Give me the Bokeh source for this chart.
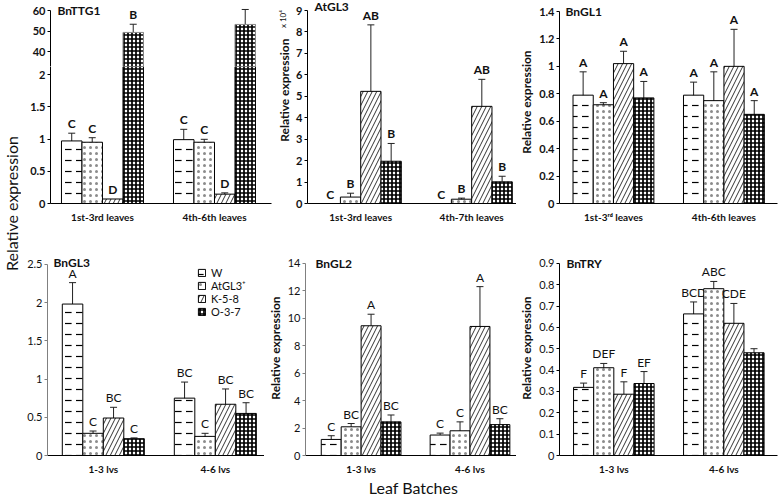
import json
from math import pi
from bokeh.plotting import figure
from bokeh.models import (ColumnDataSource, Range1d, FixedTicker, CustomJSTickFormatter,
                          Whisker, TeeHead, Label)
from bokeh.layouts import row, column
from bokeh.embed import file_html
from bokeh.resources import INLINE
from bokeh.core.properties import value

FONT = "Lato"

# ---------------- data ----------------
series = ["W", "AtGL3\u207a", "K-5-8", "O-3-7"]

ttg1_cats = ["1st-3rd leaves", "4th-6th leaves"]
ttg1_mean = [[0.97, 0.99], [0.95, 0.95], [0.07, 0.145], [49.3, 53.2]]
ttg1_err = [[0.12, 0.16], [0.07, 0.045], [0.0, 0.02], [4.0, 7.3]]
ttg1_sig = [["C", "C"], ["C", "C"], ["D", "D"], ["B", ""]]

atgl3_cats = ["1st-3rd leaves", "4th-7th leaves"]
atgl3_mean = [[0.0, 0.0], [0.3, 0.2], [5.23, 4.53], [1.97, 1.01]]
atgl3_err = [[0.0, 0.0], [0.18, 0.05], [3.1, 1.26], [0.83, 0.26]]
atgl3_sig = [["C", "C"], ["B", "B"], ["AB", "AB"], ["B", "B"]]

gl1_cats = ["1st-3\u02b3\u1d48 leaves", "4th-6th leaves"]
gl1_mean = [[0.79, 0.79], [0.72, 0.75], [1.02, 1.0], [0.77, 0.65]]
gl1_err = [[0.17, 0.095], [0.015, 0.21], [0.09, 0.27], [0.12, 0.1]]
gl1_sig = [["A", "A"], ["A", "A"], ["A", "A"], ["A", "A"]]

gl3_cats = ["1-3 lvs", "4-6 lvs"]
gl3_mean = [[1.98, 0.75], [0.29, 0.25], [0.49, 0.67], [0.22, 0.55]]
gl3_err = [[0.28, 0.21], [0.03, 0.04], [0.14, 0.2], [0.01, 0.14]]
gl3_sig = [["A", "BC"], ["C", "C"], ["BC", "BC"], ["C", "BC"]]

gl2_cats = ["1-3 lvs", "4-6 lvs"]
gl2_mean = [[1.17, 1.49], [2.09, 1.8], [9.45, 9.4], [2.45, 2.25]]
gl2_err = [[0.27, 0.14], [0.24, 0.65], [0.84, 2.9], [0.5, 0.43]]
gl2_sig = [["C", "C"], ["BC", "C"], ["A", "A"], ["BC", "BC"]]

try_cats = ["1-3 lvs", "4-6 lvs"]
try_mean = [[0.319, 0.663], [0.411, 0.781], [0.287, 0.619], [0.337, 0.481]]
try_err = [[0.02, 0.056], [0.02, 0.034], [0.058, 0.093], [0.056, 0.019]]
try_sig = [["F", "BCD"], ["DEF", "ABC"], ["F", "CDE"], ["EF", ""]]

# ---------------- styles ----------------
BW = 0.183
STYLE = [
    dict(fill_color="white", hatch_pattern="horizontal_dash", hatch_scale=11, hatch_weight=1.2, hatch_color="black"),
    dict(fill_color="white", hatch_pattern="dot", hatch_scale=6, hatch_color="black", hatch_alpha=0.45),
    dict(fill_color="white", hatch_pattern="right_diagonal_line", hatch_scale=9, hatch_weight=0.8, hatch_color="black"),
    dict(fill_color="white", hatch_pattern="cross", hatch_scale=4, hatch_weight=1.7, hatch_color="black"),
]


def yend(top_tick, frame_h, d):
    """range end so that top_tick sits d px below the frame top"""
    return top_tick * frame_h / (frame_h - d)


def make_fig(width, height, xr, yr, bl, bt, br, bb, x_axis=True):
    p = figure(width=width, height=height, x_range=Range1d(*xr), y_range=Range1d(*yr),
               output_backend="svg", toolbar_location=None,
               min_border_left=bl, min_border_top=bt, min_border_right=br, min_border_bottom=bb,
               x_axis_location="below" if x_axis else None, y_axis_location="left")
    p.grid.visible = False
    p.outline_line_color = None
    p.background_fill_color = "white"
    p.border_fill_color = "white"
    return p


def style_y(p, ticks, bold, color="black", label=None, bounds=None):
    ax = p.yaxis[0]
    ax.ticker = FixedTicker(ticks=ticks)
    ax.formatter = CustomJSTickFormatter(code="return String(tick)")
    ax.bounds = bounds if bounds else (ticks[0], ticks[-1])
    ax.axis_line_color = color
    ax.major_tick_line_color = color
    ax.major_tick_out = 3
    ax.major_tick_in = 0
    ax.minor_tick_out = 0
    ax.minor_tick_in = 0
    ax.major_label_standoff = 2
    ax.major_label_text_font = FONT
    ax.major_label_text_font_size = "11px"
    ax.major_label_text_font_style = "bold" if bold else "normal"
    ax.major_label_text_color = "#111111"
    if label:
        ax.axis_label = label
        ax.axis_label_standoff = 2
        ax.axis_label_text_font = FONT
        ax.axis_label_text_font_size = "12px"
        ax.axis_label_text_font_style = "bold"
        ax.axis_label_text_color = "#111111"


def style_x(p, cats):
    ax = p.xaxis[0]
    ax.ticker = FixedTicker(ticks=[g + 0.5 for g in range(len(cats))])
    ax.formatter = CustomJSTickFormatter(code="const cats = %s; return cats[Math.floor(tick)];" % json.dumps(cats))
    ax.axis_line_color = "black"
    ax.major_tick_out = 0
    ax.major_tick_in = 0
    ax.minor_tick_out = 0
    ax.minor_tick_in = 0
    ax.major_label_standoff = 7
    ax.major_label_text_font = FONT
    ax.major_label_text_font_size = "10px"
    ax.major_label_text_font_style = "bold"
    ax.major_label_text_color = "#111111"


def draw(p, cats, mean, err, sig, bold, bar_keep=None, ann_keep=None, bottom=0.0,
         line_color="black", legend=False):
    for i, name in enumerate(series):
        brows = [g for g in range(len(cats)) if bar_keep is None or bar_keep(mean[i][g])]
        arows = [g for g in range(len(cats)) if ann_keep is None or ann_keep(mean[i][g])]
        if brows:
            bsrc = ColumnDataSource(dict(
                x=[g + 0.5 + (i - 1.5) * BW for g in brows],
                top=[mean[i][g] for g in brows]))
            kw = dict(STYLE[i])
            if legend:
                kw["legend_label"] = name
            p.vbar(x="x", width=BW, top="top", bottom=bottom, source=bsrc,
                   line_color=line_color, line_width=1, **kw)
        wrows = [g for g in arows if err[i][g] > 0]
        if wrows:
            wsrc = ColumnDataSource(dict(
                x=[g + 0.5 + (i - 1.5) * BW for g in wrows],
                lo=[mean[i][g] - err[i][g] for g in wrows],
                hi=[mean[i][g] + err[i][g] for g in wrows]))
            p.add_layout(Whisker(source=wsrc, base="x", upper="hi", lower="lo",
                                 line_color="#222222", line_width=1,
                                 upper_head=TeeHead(size=7, line_color="#222222", line_width=1),
                                 lower_head=TeeHead(size=7, line_color="#222222", line_width=1)))
        if arows:
            tsrc = ColumnDataSource(dict(
                x=[g + 0.5 + (i - 1.5) * BW for g in arows],
                y=[mean[i][g] + err[i][g] for g in arows],
                t=[sig[i][g] for g in arows]))
            p.text(x="x", y="y", text="t", source=tsrc, text_font=value(FONT),
                   text_font_size="12px", text_font_style="bold" if bold else "normal",
                   text_align="center", text_baseline="bottom", y_offset=-2, text_color="#111111")


def title(p, text, top_tick, xoff=7, yoff=0):
    p.add_layout(Label(x=p.x_range.start, y=top_tick, x_offset=xoff, y_offset=yoff, text=text,
                       text_font=FONT, text_font_size="12px", text_font_style="bold",
                       text_align="left", text_baseline="middle", text_color="#111111"))


def text_strip(width, height, x0=0):
    s = figure(width=width, height=height, x_range=Range1d(x0, x0 + width), y_range=Range1d(height, 0),
               output_backend="svg", toolbar_location=None, min_border=0,
               x_axis_location=None, y_axis_location=None)
    s.grid.visible = False
    s.outline_line_color = None
    return s


# ---------------- left strip (shared y label) ----------------
strip = text_strip(21, 497)
strip.add_layout(Label(x=10.5, y=203, text="Relative expression", angle=pi / 2,
                       text_font=FONT, text_font_size="16px", text_align="center",
                       text_baseline="middle", text_color="#111111"))

# ---------------- BnTTG1 (broken axis) ----------------
UP_SCALE = 2.05      # px per unit in the upper segment
LOW_SCALE = 64.5     # px per unit in the lower segment
UP = (60 - 56 / UP_SCALE, 60 + 10 / UP_SCALE)
LOW = (0, 137 / LOW_SCALE)
p1u = make_fig(253, 66, (0.036, 2.009), UP, 29, 0, 3, 0, x_axis=False)
style_y(p1u, [40, 50, 60], True, bounds=(UP[0], 60))
draw(p1u, ttg1_cats, ttg1_mean, ttg1_err, ttg1_sig, True,
     bar_keep=lambda v: v > UP[0], ann_keep=lambda v: v > UP[0], bottom=UP[0], line_color="#888888")
title(p1u, "BnTTG1", 60)

p1l = make_fig(253, 174, (0.036, 2.009), LOW, 29, 0, 3, 37)
style_y(p1l, [0, 0.5, 1, 1.5, 2], True, bounds=LOW)
style_x(p1l, ttg1_cats)
draw(p1l, ttg1_cats, ttg1_mean, ttg1_err, ttg1_sig, True, ann_keep=lambda v: v <= LOW[1])
p1 = column(p1u, p1l)

# ---------------- AtGL3 ----------------
p2lab = text_strip(19, 240)
p2lab.add_layout(Label(x=9.5, y=106, text="Relative expression", angle=pi / 2,
                       text_font=FONT, text_font_size="12px", text_font_style="bold",
                       text_align="center", text_baseline="middle", text_color="#111111"))
p2lab.add_layout(Label(x=8, y=22, text="x 10\u2074", angle=pi / 2,
                       text_font=FONT, text_font_size="8px", text_align="center",
                       text_baseline="middle", text_color="#111111"))
p2 = make_fig(223, 240, (0.0205, 1.904), (0, yend(9, 203, 10)), 12, 0, 0, 37)
style_y(p2, list(range(10)), True)
style_x(p2, atgl3_cats)
draw(p2, atgl3_cats, atgl3_mean, atgl3_err, atgl3_sig, True)
title(p2, "AtGL3", 9, 7, 4)

# ---------------- BnGL1 ----------------
p3 = make_fig(262, 240, (0.0116, 1.985), (0, yend(1.4, 203, 11)), 40, 0, 1, 37)
style_y(p3, [0, 0.2, 0.4, 0.6, 0.8, 1, 1.2, 1.4], True, label="Relative expression")
style_x(p3, gl1_cats)
draw(p3, gl1_cats, gl1_mean, gl1_err, gl1_sig, True)
title(p3, "BnGL1", 1.4, 6)

# ---------------- BnGL3 ----------------
p4 = make_fig(243, 237, (0.0018, 1.939), (0, yend(2.5, 217, 24)), 26, 0, 0, 20)
style_y(p4, [0, 0.5, 1, 1.5, 2, 2.5], False, color="#808080")
style_x(p4, gl3_cats)
draw(p4, gl3_cats, gl3_mean, gl3_err, gl3_sig, False, legend=True)
title(p4, "BnGL3", 2.5, 6, 2)
lg = p4.legend[0]
lg.location = (150, 137)
lg.padding = 0
lg.margin = 0
lg.spacing = 0
lg.label_height = 13
lg.glyph_height = 9
lg.glyph_width = 9
lg.label_standoff = 5
lg.background_fill_alpha = 0
lg.border_line_alpha = 0
lg.label_text_font = FONT
lg.label_text_font_size = "11px"
lg.label_text_color = "#111111"

# ---------------- BnGL2 ----------------
p5 = make_fig(252, 237, (-0.0107, 1.927), (0, yend(14, 217, 23)), 35, 0, 0, 20)
style_y(p5, [0, 2, 4, 6, 8, 10, 12, 14], False, color="#808080", label="Relative expression")
style_x(p5, gl2_cats)
draw(p5, gl2_cats, gl2_mean, gl2_err, gl2_sig, False)
title(p5, "BnGL2", 14, 10)

# ---------------- BnTRY ----------------
p6 = make_fig(262, 237, (0.0062, 1.988), (0, yend(0.9, 217, 23)), 39, 0, 1, 20)
style_y(p6, [0, 0.1, 0.2, 0.3, 0.4, 0.5, 0.6, 0.7, 0.8, 0.9], False, label="Relative expression")
style_x(p6, try_cats)
draw(p6, try_cats, try_mean, try_err, try_sig, False)
title(p6, "BnTRY", 0.9, 7)

# ---------------- bottom strip (shared x label) ----------------
bstrip = text_strip(757, 20, 21)
bstrip.add_layout(Label(x=413, y=10, text="Leaf Batches", text_font=FONT, text_font_size="16px",
                        text_align="center", text_baseline="middle", text_color="#111111"))

layout = row(strip, column(row(p1, p2lab, p2, p3), row(p4, p5, p6), bstrip))

open("out.html", "w").write(file_html(layout, INLINE))
